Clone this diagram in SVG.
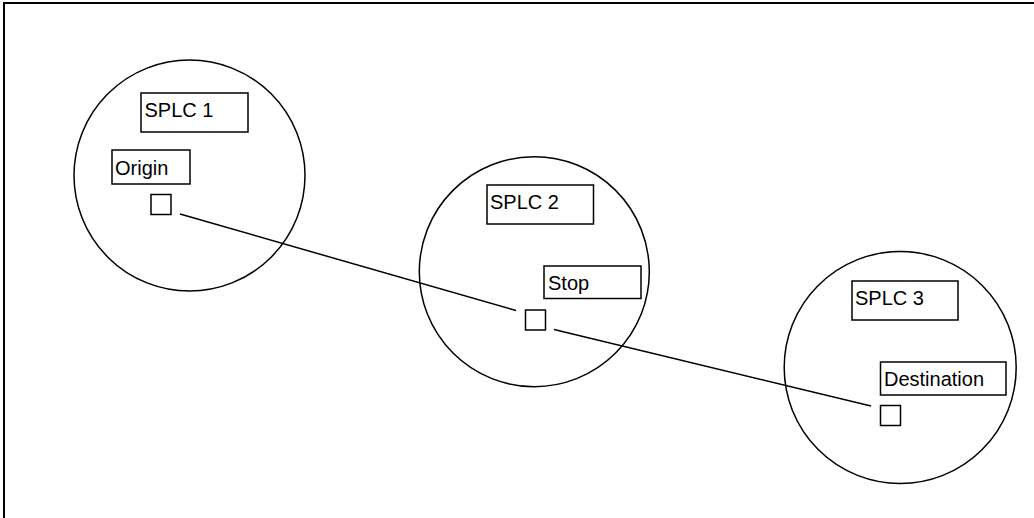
<svg xmlns="http://www.w3.org/2000/svg" width="1034" height="518" viewBox="0 0 1034 518">
<style>
.c{fill:none;stroke:#000;stroke-width:1.5}
.b{fill:#fff;stroke:#000;stroke-width:1.5}
.s{fill:#fff;stroke:#000;stroke-width:1.5}
.t{font-family:"Liberation Sans",Arial,sans-serif;font-size:20px;fill:#000}
.l{stroke:#000;stroke-width:1.5;fill:none}
</style>
<rect width="1034" height="518" fill="#fff"/>
<path d="M4 518 V3 H1034" fill="none" stroke="#000" stroke-width="2"/>
<g id="connectors">
<line class="l" x1="180" y1="214" x2="516" y2="310.5"/>
<line class="l" x1="554" y1="329.5" x2="871" y2="406"/>
</g>
<g id="splc1">
<circle class="c" cx="189.5" cy="175.5" r="115.5"/>
<rect class="b" x="141" y="93" width="107" height="39"/>
<text class="t" x="144.5" y="116.5">SPLC 1</text>
</g>
<g id="origin">
<rect class="b" x="112" y="150" width="78" height="34"/>
<text class="t" x="115" y="174.5">Origin</text>
<rect class="s" x="151" y="194.5" width="20" height="20"/>
</g>
<g id="splc2">
<circle class="c" cx="534.3" cy="271.7" r="115"/>
<rect class="b" x="487" y="185" width="106.5" height="39"/>
<text class="t" x="490" y="209">SPLC 2</text>
</g>
<g id="stop">
<rect class="b" x="544" y="266" width="97" height="32.5"/>
<text class="t" x="548" y="289.5">Stop</text>
<rect class="s" x="525.5" y="310" width="20" height="20"/>
</g>
<g id="splc3">
<circle class="c" cx="900.2" cy="367.5" r="116"/>
<rect class="b" x="852" y="281" width="106" height="39"/>
<text class="t" x="855" y="304.5">SPLC 3</text>
</g>
<g id="destination">
<rect class="b" x="880.5" y="362" width="125.5" height="33"/>
<text class="t" x="884" y="386">Destination</text>
<rect class="s" x="880.5" y="405.5" width="20" height="20"/>
</g>
</svg>
